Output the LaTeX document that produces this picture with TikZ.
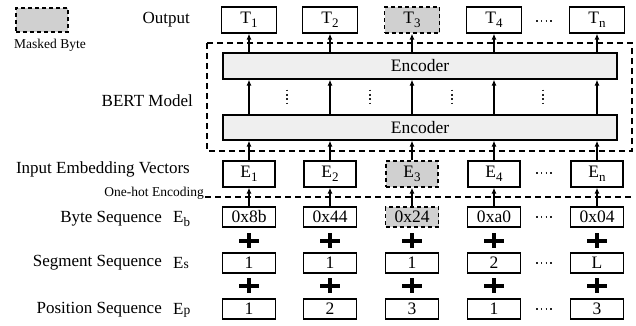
\documentclass[tikz,border=0pt]{standalone}
\usepackage{fontspec}
\setmainfont{Liberation Serif}
\usetikzlibrary{arrows.meta}
\definecolor{maskgray}{HTML}{D0D0D0}
\definecolor{encgray}{HTML}{EFEFEF}
\newcommand\lowsub[1]{\raisebox{-4pt}{\fontsize{13}{13}\selectfont #1}}
\tikzset{
  lbl/.style={font=\fontsize{17}{17}\selectfont, inner sep=0pt},
  small/.style={font=\fontsize{13.5}{14}\selectfont, inner sep=0pt},
  cell/.style={draw, line width=1.2pt, inner sep=0pt, minimum width=53pt,
    minimum height=20pt, font=\fontsize{17.5}{17.5}\selectfont},
  tall/.style={cell, minimum height=26pt},
  masked/.style={dashed, dash pattern=on 4pt off 3pt, fill=maskgray},
  encoder/.style={draw, line width=1.2pt, fill=encgray, minimum width=394pt,
    minimum height=26pt, inner sep=0pt, font=\fontsize{17.5}{17.5}\selectfont},
  arr/.style={-{Latex[length=6pt,width=5pt]}, line width=1.2pt},
  frame/.style={dashed, dash pattern=on 6pt off 4pt, line width=1.4pt},
  plus/.style={line width=4pt},
  dotrow/.style={line width=1.7pt, dash pattern=on 1.7pt off 3.07pt, black!85},
}
\begin{document}
\begin{tikzpicture}[x=1pt, y=-1pt]
\useasboundingbox (0,0) rectangle (636,325);

% legend
\node[cell, masked, minimum width=52pt, minimum height=24pt] (legend) at (42,20) {};
\node[small] (legendtxt) at (50,45) {Masked Byte};

% row labels
\node[lbl, anchor=east] (lout) at (190,20) {Output};
\node[lbl, anchor=east] (lbert) at (193,101) {BERT Model};
\node[lbl, anchor=east] (lemb) at (190,169) {Input Embedding Vectors};
\node[lbl, anchor=east] (lbyte) at (162,219) {Byte Sequence};
\node[lbl, anchor=west] (eb) at (173,219) {E\lowsub{b}};
\node[lbl, anchor=east] (lseg) at (162,263) {Segment Sequence};
\node[lbl, anchor=west] (es) at (173,263) {E{\fontsize{13.5}{13.5}\selectfont s}};
\node[lbl, anchor=east] (lpos) at (162,310) {Position Sequence};
\node[lbl, anchor=west] (ep) at (173,310) {E{\fontsize{13.5}{13.5}\selectfont p}};

% BERT frame and one-hot separator
\draw[frame] (207,43) rectangle (632,151);
\coordinate (oh1) at (205,197);
\coordinate (oh2) at (634,197);
\draw[frame] (oh1) -- (oh2);
\node[small, anchor=east] (ohtxt) at (204,193.5) {One-hot Encoding};

% encoders
\node[encoder] (enc2) at (420,66) {Encoder};
\node[encoder, minimum height=25pt] (enc1) at (420,127.5) {Encoder};

% columns
\foreach \i/\x/\b/\s/\p/\m in {1/249/0x8b/1/1/0, 2/330/0x44/1/2/0, 3/412/0x24/1/3/1,
                               4/494/0xa0/2/1/0, n/597/0x04/L/3/0} {
  \ifnum\m=1
    \node[tall, masked, minimum width=55pt] (T\i) at (\x,20) {T\lowsub{\i}};
    \node[tall, masked, minimum width=52pt] (E\i) at (\x,174) {E\lowsub{\i}};
    \node[cell, masked] (B\i) at (\x,217) {\b};
  \else
    \node[tall, minimum width=55pt] (T\i) at (\x,20) {T\lowsub{\i}};
    \node[tall, minimum width=52pt] (E\i) at (\x,174) {E\lowsub{\i}};
    \node[cell] (B\i) at (\x,217) {\b};
  \fi
  \node[cell] (S\i) at (\x,263) {\s};
  \node[cell] (P\i) at (\x,309) {\p};
  % arrows
  \draw[arr] (T\i.south |- enc2.north) -- (T\i.south);
  \draw[arr] (T\i.south |- enc1.north) -- (T\i.south |- enc2.south);
  \draw[arr] (E\i.north) -- (E\i.north |- enc1.south);
  \draw[arr] (B\i.north) -- (E\i.south);
  % plus signs
  \draw[plus] (\x-10,240.5) -- (\x+10,240.5) (\x,233) -- (\x,248);
  \draw[plus] (\x-10,285.5) -- (\x+10,285.5) (\x,278) -- (\x,293);
}

% vertical ellipses between encoders
\foreach \x in {287,370,452,543}
  \draw[dotrow, dash pattern=on 1.7pt off 2.7pt] (\x,89.5) -- (\x,104.5);

% horizontal ellipses before the last column
\foreach \y in {21,173,217,263,309}
  \draw[dotrow] (536,\y) -- (552,\y);
\end{tikzpicture}
\end{document}
